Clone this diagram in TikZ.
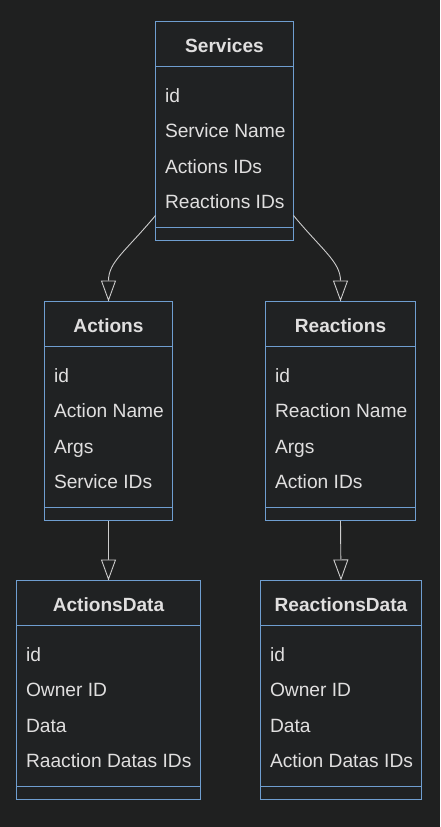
\documentclass[tikz,border=0pt]{standalone}
\usepackage{fontspec}
\setmainfont{Liberation Sans}
\usetikzlibrary{calc,arrows.meta}
\definecolor{bgcol}{HTML}{1F2020}
\definecolor{boxfill}{HTML}{202223}
\definecolor{boxline}{HTML}{6F9ED0}
\definecolor{txtcol}{HTML}{E0DFDF}
\definecolor{edgecol}{HTML}{CCCCCC}
\tikzset{
  classbox/.style={draw=boxline, fill=boxfill, line width=1pt, inner sep=0pt, outer sep=0pt, rectangle},
  divider/.style={draw=boxline, line width=1pt},
  classtitle/.style={text=txtcol, font=\fontsize{19.1}{22}\selectfont\bfseries, inner sep=0pt},
  classattr/.style={text=txtcol, font=\fontsize{19.2}{22}\selectfont, inner sep=0pt},
  edge/.style={draw=edgecol, line width=0.9pt, -{Triangle[length=21pt,width=15pt,fill=bgcol]}},
}
\newcommand\umlclass[9]{%
  \node[classbox, anchor=north west, minimum width={(#3-#2)*1pt}, minimum height=219pt] (#1) at (#2,#4) {};
  \draw[divider] ($(#1.north west)+(0,45)$) -- ($(#1.north east)+(0,45)$);
  \draw[divider] ($(#1.north west)+(0,206)$) -- ($(#1.north east)+(0,206)$);
  \node[classtitle, anchor=base] (#1-t) at ($(#1.north)+(0,30.5)$) {#5};
  \node[classattr, anchor=base west] (#1-a) at ($(#1.north west)+(9.3,81)$) {#6};
  \node[classattr, anchor=base west] (#1-b) at ($(#1.north west)+(9.3,116.3)$) {#7};
  \node[classattr, anchor=base west] (#1-c) at ($(#1.north west)+(9.3,151.6)$) {#8};
  \node[classattr, anchor=base west] (#1-d) at ($(#1.north west)+(9.3,186.9)$) {#9};
}
\begin{document}
\begin{tikzpicture}[x=1pt,y=-1pt]
\useasboundingbox (0,0) rectangle (440,827);
\fill[bgcol] (0,0) rectangle (440,827);
\umlclass{svc}{155.5}{293.5}{21.5}{Services}{id}{Service Name}{Actions IDs}{Reactions IDs}
\umlclass{act}{44.5}{172.5}{301.5}{Actions}{id}{Action Name}{Args}{Service IDs}
\umlclass{rea}{265.5}{415.5}{301.5}{Reactions}{id}{Reaction Name}{Args}{Action IDs}
\umlclass{actd}{16.5}{200.5}{580.5}{ActionsData}{id}{Owner ID}{Data}{Raaction Datas IDs}
\umlclass{read}{260.5}{421.5}{580.5}{ReactionsData}{id}{Owner ID}{Data}{Action Datas IDs}
\coordinate (s1) at ($(svc.north west)+(0,194)$);
\coordinate (s2) at ($(svc.north east)+(0,194)$);
\draw[edge] (s1) .. controls (125,252) and (108.5,262) .. (act.north);
\draw[edge] (s2) .. controls (322,250) and (340.5,262) .. (rea.north);
\draw[edge] (act.south) -- (actd.north);
\draw[edge] (rea.south) -- (read.north);
\end{tikzpicture}
\end{document}
